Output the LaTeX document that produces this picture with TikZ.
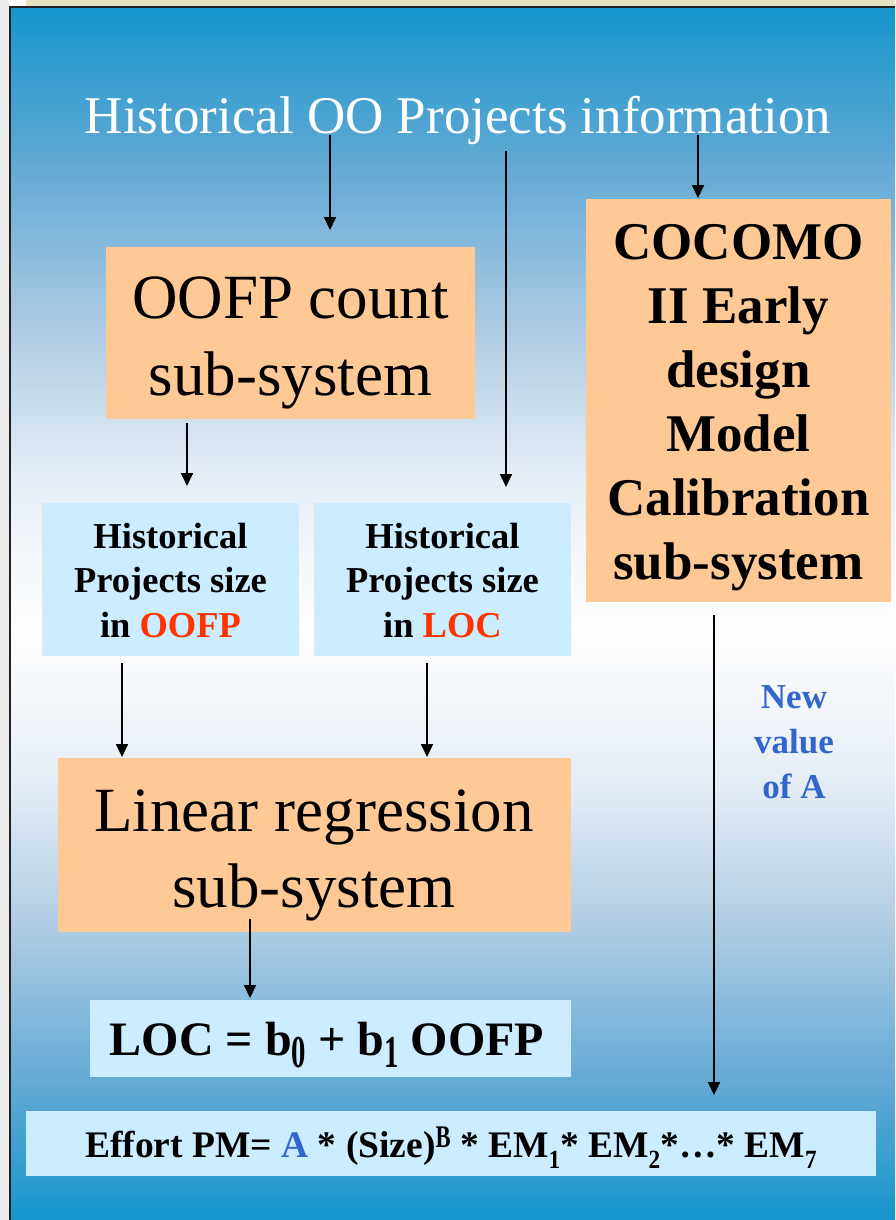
\documentclass[tikz,border=0pt]{standalone}
\usepackage{fontspec}
\usepackage{graphicx}
\setmainfont{Liberation Serif}
\usetikzlibrary{arrows.meta,calc}

% palette
\definecolor{bgedge}{HTML}{1596CC}
\definecolor{bgB}{HTML}{5FA8D4}
\definecolor{bgC}{HTML}{A9C9E2}
\definecolor{bgD}{HTML}{E3ECF5}
\definecolor{bgmid}{HTML}{FFFFFF}
\definecolor{peach}{HTML}{FFC996}
\definecolor{skyfill}{HTML}{CCECFF}
\definecolor{hotred}{HTML}{FF3300}
\definecolor{calblue}{HTML}{3366CC}
\definecolor{frameband}{HTML}{E5E3C0}
\definecolor{frameline}{HTML}{222222}

% blue -> white -> blue slide background (path spans 25bp..75bp of the shading)
\pgfdeclareverticalshading{slidebg}{100bp}{color(0bp)=(bgedge); color(25bp)=(bgedge); color(30.35bp)=(bgB); color(36.55bp)=(bgC); color(42.75bp)=(bgD); color(49.35bp)=(bgmid); color(55.95bp)=(bgD); color(62.15bp)=(bgC); color(68.75bp)=(bgB); color(75bp)=(bgedge); color(100bp)=(bgedge)}

\newcommand\setfs[2]{\fontsize{#1}{#2}\selectfont}
\newcommand\lowdigit[1]{\raisebox{-0.27em}{\scalebox{0.6}[0.95]{#1}}}
\newcommand\effsub[1]{\raisebox{-0.3em}{\scalebox{0.62}[0.7]{#1}}}
\newcommand\effsup[1]{\raisebox{0.25em}{\scalebox{0.6}[0.84]{#1}}}

\begin{document}
\begin{tikzpicture}[x=1pt,y=-1pt,
  box/.style={rectangle, inner sep=0pt, outer sep=0pt, draw=none},
  peachbox/.style={box, fill=peach},
  skybox/.style={box, fill=skyfill},
  label/.style={inner sep=0pt, outer sep=0pt, align=center},
  arr/.style={line width=1.7pt, -{Triangle[length=13pt,width=12pt]}}]

\useasboundingbox (0,0) rectangle (895,1220);

% slide frame and background
\fill[white] (0,0) rectangle (895,1220);
\fill[gray!15] (0,0) rectangle (9,1220);
\fill[frameband] (26,0) rectangle (895,6);
\shade[shading=slidebg] (10,7) rectangle (895,1220);
\draw[frameline, line width=2pt] (10,1220) -- (10,7) -- (895,7);

% title
\node[label, white, anchor=base, font=\setfs{53}{60}] (title) at (458,133)
  {Historical OO Projects information};

% boxes
\node[peachbox, minimum width=369, minimum height=172] (oofp) at (290.5,333) {};
\node[skybox, minimum width=257, minimum height=153] (szf) at (170.5,579.5) {};
\node[skybox, minimum width=257, minimum height=153] (szl) at (442.5,579.5) {};
\node[peachbox, minimum width=305, minimum height=403] (coco) at (738.5,400.5) {};
\node[peachbox, minimum width=513, minimum height=174] (linreg) at (314.5,845) {};
\node[skybox, minimum width=481, minimum height=77] (loc) at (330.5,1038.5) {};
\node[skybox, minimum width=850, minimum height=65] (effort) at (451,1143.5) {};

% box texts
\node[label, anchor=north, font=\setfs{63}{77}] (oofpT) at (290.5,264.1)
  {\strut OOFP count\\sub-system\strut};
\node[label, anchor=north, font=\bfseries\setfs{36.5}{44.5}] (szfT) at (170.5,516.85)
  {\strut Historical\\Projects size\\in \textcolor{hotred}{OOFP}\strut};
\node[label, anchor=north, font=\bfseries\setfs{36.5}{44.5}] (szlT) at (442.5,516.85)
  {\strut Historical\\Projects size\\in \textcolor{hotred}{LOC}\strut};
\node[label, anchor=north, font=\bfseries\setfs{53}{64}] (cocoT) at (738.5,214.2)
  {\strut COCOMO\\II Early\\design\\Model\\Calibration\\sub-system\strut};
\node[label, anchor=north, font=\setfs{63}{76}] (linregT) at (314,777.8)
  {\strut Linear regression\\sub-system\strut};
\node[label, anchor=north, text=calblue, font=\bfseries\setfs{35}{45}] (newA) at (794,676.5)
  {\strut New\\value\\of A\strut};
\node[label, anchor=base, font=\bfseries\setfs{48}{56}] (locT) at (327,1055)
  {LOC = b\lowdigit{0} + b\lowdigit{1} OOFP};
\node[label, anchor=base, font=\bfseries\setfs{37.5}{40}] (effortT) at (451,1157)
  {Effort PM= \textcolor{calblue}{A} * (Size)\effsup{B} * EM\effsub{1}* EM\effsub{2}*…* EM\effsub{7}};

% connector start points
\coordinate (t1) at (330,135);
\coordinate (t2) at (506,151);
\coordinate (t3) at (698,135);
\coordinate (s4) at ($(oofp.south west)+(81,4)$);
\coordinate (s5) at ($(szf.south west)+(80,7)$);
\coordinate (s6) at ($(szl.south west)+(113,7)$);
\coordinate (s7) at ($(linreg.south west)+(192,-13)$);
\coordinate (s8) at ($(coco.south west)+(128,13)$);

% connectors
\draw[arr] (t1) -- ($(oofp.north -| t1)+(0,-17)$);
\draw[arr] (t2) -- ($(szl.north -| t2)+(0,-16)$);
\draw[arr] (t3) -- ($(coco.north -| t3)+(0,-1)$);
\draw[arr] (s4) -- ($(szf.north -| s4)+(0,-17)$);
\draw[arr] (s5) -- ($(linreg.north -| s5)+(0,-1)$);
\draw[arr] (s6) -- ($(linreg.north -| s6)+(0,-1)$);
\draw[arr] (s7) -- ($(loc.north -| s7)+(0,-2)$);
\draw[arr] (s8) -- ($(effort.north -| s8)+(0,-16)$);
\end{tikzpicture}
\end{document}
